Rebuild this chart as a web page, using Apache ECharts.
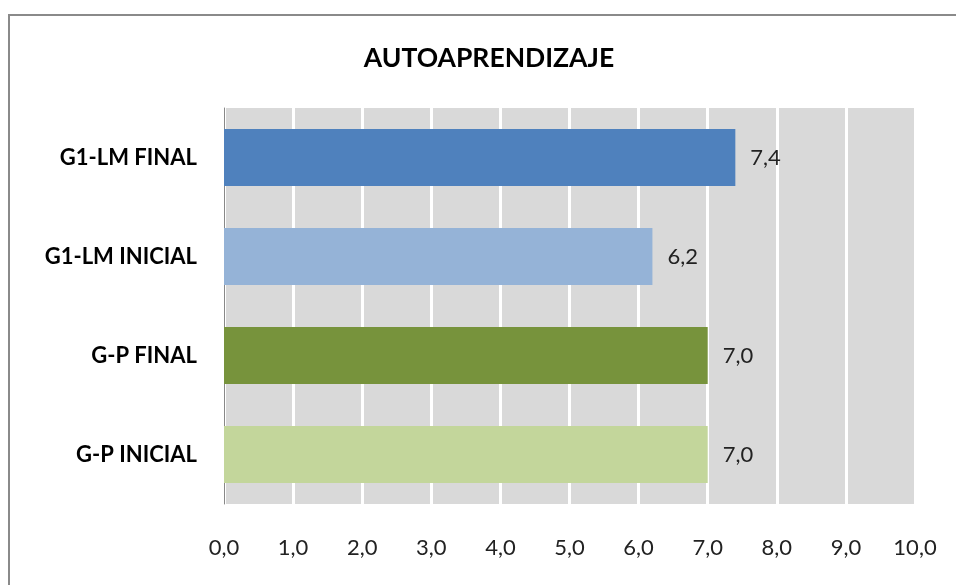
<!DOCTYPE html>
<html>
<head>
<meta charset="utf-8">
<script src="https://cdn.jsdelivr.net/npm/echarts@6/dist/echarts.min.js"></script>
<style>html,body{margin:0;padding:0;background:#fff}#c{width:956px;height:585px}</style>
</head>
<body>
<div id="c"></div>
<script>
var categories = ['G1-LM FINAL', 'G1-LM INICIAL', 'G-P FINAL', 'G-P INICIAL'];
var values = [7.4, 6.2, 7.0, 7.0];
var barColors = ['#4f81bd', '#95b3d7', '#77933c', '#c3d69b'];
var xTicks = [0, 1, 2, 3, 4, 5, 6, 7, 8, 9, 10];

function fmt(v) { return Number(v).toFixed(1).replace('.', ','); }

var chart = echarts.init(document.getElementById('c'), null, {renderer: 'canvas'});
chart.setOption({
  animation: false,
  backgroundColor: '#ffffff',
  title: {
    text: 'AUTOAPRENDIZAJE',
    left: 489 - 5,
    textAlign: 'center',
    top: 40,
    textStyle: {fontFamily: 'Lato', fontWeight: 'bold', fontSize: 26.5, color: '#000'}
  },
  graphic: [{
    type: 'rect',
    shape: {x: 9, y: 15, width: 1200, height: 1200},
    style: {fill: 'none', stroke: '#8a8a8a', lineWidth: 2},
    silent: true
  }],
  grid: {
    left: 224, right: 41, top: 108, bottom: 81,
    show: true, backgroundColor: '#d9d9d9', borderWidth: 0
  },
  xAxis: {
    type: 'value',
    min: xTicks[0], max: xTicks[xTicks.length - 1], interval: 1,
    axisLine: {show: false},
    axisTick: {show: false},
    splitLine: {show: true, lineStyle: {color: '#ffffff', width: 3}},
    axisLabel: {
      margin: 33,
      fontFamily: 'Lato', fontSize: 22, color: '#222',
      formatter: fmt
    }
  },
  yAxis: {
    type: 'category',
    inverse: true,
    data: categories,
    axisLine: {show: true, lineStyle: {color: '#888888', width: 1}},
    axisTick: {show: false},
    splitLine: {show: false},
    axisLabel: {
      margin: 27,
      fontFamily: 'Lato', fontWeight: 'bold', fontSize: 22, color: '#000'
    }
  },
  series: [{
    type: 'bar',
    barWidth: 57,
    data: values.map(function (v, i) {
      return {value: v, itemStyle: {color: barColors[i]}};
    }),
    label: {
      show: true, position: 'right', distance: 15,
      fontFamily: 'Lato', fontSize: 22, color: '#222',
      formatter: function (p) { return fmt(p.value); }
    }
  }]
});
</script>
</body>
</html>
